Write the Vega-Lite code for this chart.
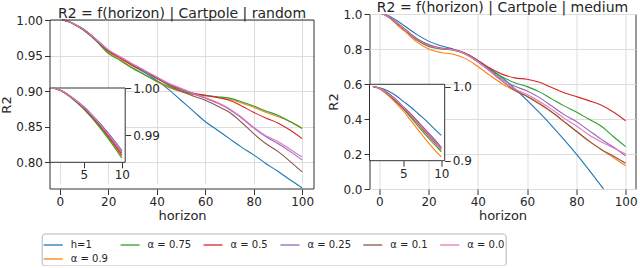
{
"$schema": "https://vega.github.io/schema/vega-lite/v6.json",
"padding": {"left": 0, "top": 0, "right": 2, "bottom": 0},
"background": "white",
"spacing": 11.5,
"datasets": {
"random": [
{"x":1,"s":"h=1","y":1},{"x":1,"s":"α = 0.9","y":1},{"x":1,"s":"α = 0.75","y":1},{"x":1,"s":"α = 0.5","y":1},{"x":1,"s":"α = 0.25","y":1},{"x":1,"s":"α = 0.1","y":1},{"x":1,"s":"α = 0.0","y":1},
{"x":2,"s":"h=1","y":0.99947},{"x":2,"s":"α = 0.9","y":0.99942},{"x":2,"s":"α = 0.75","y":0.9994},{"x":2,"s":"α = 0.5","y":0.99943},{"x":2,"s":"α = 0.25","y":0.99946},{"x":2,"s":"α = 0.1","y":0.99945},{"x":2,"s":"α = 0.0","y":0.99946},
{"x":3,"s":"h=1","y":0.99854},{"x":3,"s":"α = 0.9","y":0.9984},{"x":3,"s":"α = 0.75","y":0.99836},{"x":3,"s":"α = 0.5","y":0.99844},{"x":3,"s":"α = 0.25","y":0.99853},{"x":3,"s":"α = 0.1","y":0.99848},{"x":3,"s":"α = 0.0","y":0.9985},
{"x":4,"s":"h=1","y":0.99734},{"x":4,"s":"α = 0.9","y":0.9971},{"x":4,"s":"α = 0.75","y":0.99702},{"x":4,"s":"α = 0.5","y":0.99716},{"x":4,"s":"α = 0.25","y":0.99732},{"x":4,"s":"α = 0.1","y":0.99724},{"x":4,"s":"α = 0.0","y":0.99728},
{"x":5,"s":"h=1","y":0.99601},{"x":5,"s":"α = 0.9","y":0.99565},{"x":5,"s":"α = 0.75","y":0.99553},{"x":5,"s":"α = 0.5","y":0.99574},{"x":5,"s":"α = 0.25","y":0.99598},{"x":5,"s":"α = 0.1","y":0.99586},{"x":5,"s":"α = 0.0","y":0.99592},
{"x":6,"s":"h=1","y":0.99441},{"x":6,"s":"α = 0.9","y":0.99391},{"x":6,"s":"α = 0.75","y":0.99374},{"x":6,"s":"α = 0.5","y":0.99404},{"x":6,"s":"α = 0.25","y":0.99437},{"x":6,"s":"α = 0.1","y":0.9942},{"x":6,"s":"α = 0.0","y":0.99429},
{"x":7,"s":"h=1","y":0.99269},{"x":7,"s":"α = 0.9","y":0.99203},{"x":7,"s":"α = 0.75","y":0.9918},{"x":7,"s":"α = 0.5","y":0.99219},{"x":7,"s":"α = 0.25","y":0.99263},{"x":7,"s":"α = 0.1","y":0.99241},{"x":7,"s":"α = 0.0","y":0.99252},
{"x":8,"s":"h=1","y":0.99082},{"x":8,"s":"α = 0.9","y":0.98999},{"x":8,"s":"α = 0.75","y":0.98972},{"x":8,"s":"α = 0.5","y":0.9902},{"x":8,"s":"α = 0.25","y":0.99075},{"x":8,"s":"α = 0.1","y":0.99048},{"x":8,"s":"α = 0.0","y":0.99062},
{"x":9,"s":"h=1","y":0.98883},{"x":9,"s":"α = 0.9","y":0.98782},{"x":9,"s":"α = 0.75","y":0.98748},{"x":9,"s":"α = 0.5","y":0.98807},{"x":9,"s":"α = 0.25","y":0.98874},{"x":9,"s":"α = 0.1","y":0.98841},{"x":9,"s":"α = 0.0","y":0.98858},
{"x":10,"s":"h=1","y":0.9867},{"x":10,"s":"α = 0.9","y":0.9855},{"x":10,"s":"α = 0.75","y":0.9851},{"x":10,"s":"α = 0.5","y":0.9858},{"x":10,"s":"α = 0.25","y":0.9866},{"x":10,"s":"α = 0.1","y":0.9862},{"x":10,"s":"α = 0.0","y":0.9864},
{"x":15,"s":"h=1","y":0.9725},{"x":15,"s":"α = 0.9","y":0.9712},{"x":15,"s":"α = 0.75","y":0.9708},{"x":15,"s":"α = 0.5","y":0.9718},{"x":15,"s":"α = 0.25","y":0.9728},{"x":15,"s":"α = 0.1","y":0.9722},{"x":15,"s":"α = 0.0","y":0.9726},
{"x":20,"s":"h=1","y":0.957},{"x":20,"s":"α = 0.9","y":0.954},{"x":20,"s":"α = 0.75","y":0.953},{"x":20,"s":"α = 0.5","y":0.956},{"x":20,"s":"α = 0.25","y":0.958},{"x":20,"s":"α = 0.1","y":0.957},{"x":20,"s":"α = 0.0","y":0.958},
{"x":25,"s":"h=1","y":0.947},{"x":25,"s":"α = 0.9","y":0.944},{"x":25,"s":"α = 0.75","y":0.943},{"x":25,"s":"α = 0.5","y":0.946},{"x":25,"s":"α = 0.25","y":0.948},{"x":25,"s":"α = 0.1","y":0.947},{"x":25,"s":"α = 0.0","y":0.948},
{"x":30,"s":"h=1","y":0.936},{"x":30,"s":"α = 0.9","y":0.933},{"x":30,"s":"α = 0.75","y":0.932},{"x":30,"s":"α = 0.5","y":0.936},{"x":30,"s":"α = 0.25","y":0.938},{"x":30,"s":"α = 0.1","y":0.937},{"x":30,"s":"α = 0.0","y":0.938},
{"x":35,"s":"h=1","y":0.926},{"x":35,"s":"α = 0.9","y":0.923},{"x":35,"s":"α = 0.75","y":0.923},{"x":35,"s":"α = 0.5","y":0.928},{"x":35,"s":"α = 0.25","y":0.929},{"x":35,"s":"α = 0.1","y":0.928},{"x":35,"s":"α = 0.0","y":0.929},
{"x":40,"s":"h=1","y":0.915},{"x":40,"s":"α = 0.9","y":0.913},{"x":40,"s":"α = 0.75","y":0.914},{"x":40,"s":"α = 0.5","y":0.918},{"x":40,"s":"α = 0.25","y":0.919},{"x":40,"s":"α = 0.1","y":0.918},{"x":40,"s":"α = 0.0","y":0.92},
{"x":45,"s":"h=1","y":0.902},{"x":45,"s":"α = 0.9","y":0.905},{"x":45,"s":"α = 0.75","y":0.906},{"x":45,"s":"α = 0.5","y":0.909},{"x":45,"s":"α = 0.25","y":0.91},{"x":45,"s":"α = 0.1","y":0.908},{"x":45,"s":"α = 0.0","y":0.911},
{"x":50,"s":"h=1","y":0.887},{"x":50,"s":"α = 0.9","y":0.899},{"x":50,"s":"α = 0.75","y":0.9},{"x":50,"s":"α = 0.5","y":0.902},{"x":50,"s":"α = 0.25","y":0.903},{"x":50,"s":"α = 0.1","y":0.9},{"x":50,"s":"α = 0.0","y":0.904},
{"x":55,"s":"h=1","y":0.872},{"x":55,"s":"α = 0.9","y":0.895},{"x":55,"s":"α = 0.75","y":0.896},{"x":55,"s":"α = 0.5","y":0.897},{"x":55,"s":"α = 0.25","y":0.896},{"x":55,"s":"α = 0.1","y":0.893},{"x":55,"s":"α = 0.0","y":0.897},
{"x":60,"s":"h=1","y":0.857},{"x":60,"s":"α = 0.9","y":0.893},{"x":60,"s":"α = 0.75","y":0.894},{"x":60,"s":"α = 0.5","y":0.894},{"x":60,"s":"α = 0.25","y":0.89},{"x":60,"s":"α = 0.1","y":0.887},{"x":60,"s":"α = 0.0","y":0.891},
{"x":65,"s":"h=1","y":0.845},{"x":65,"s":"α = 0.9","y":0.891},{"x":65,"s":"α = 0.75","y":0.892},{"x":65,"s":"α = 0.5","y":0.891},{"x":65,"s":"α = 0.25","y":0.883},{"x":65,"s":"α = 0.1","y":0.879},{"x":65,"s":"α = 0.0","y":0.884},
{"x":70,"s":"h=1","y":0.833},{"x":70,"s":"α = 0.9","y":0.888},{"x":70,"s":"α = 0.75","y":0.89},{"x":70,"s":"α = 0.5","y":0.887},{"x":70,"s":"α = 0.25","y":0.874},{"x":70,"s":"α = 0.1","y":0.87},{"x":70,"s":"α = 0.0","y":0.875},
{"x":75,"s":"h=1","y":0.821},{"x":75,"s":"α = 0.9","y":0.883},{"x":75,"s":"α = 0.75","y":0.885},{"x":75,"s":"α = 0.5","y":0.879},{"x":75,"s":"α = 0.25","y":0.862},{"x":75,"s":"α = 0.1","y":0.856},{"x":75,"s":"α = 0.0","y":0.863},
{"x":80,"s":"h=1","y":0.81},{"x":80,"s":"α = 0.9","y":0.877},{"x":80,"s":"α = 0.75","y":0.879},{"x":80,"s":"α = 0.5","y":0.87},{"x":80,"s":"α = 0.25","y":0.848},{"x":80,"s":"α = 0.1","y":0.84},{"x":80,"s":"α = 0.0","y":0.849},
{"x":85,"s":"h=1","y":0.798},{"x":85,"s":"α = 0.9","y":0.87},{"x":85,"s":"α = 0.75","y":0.872},{"x":85,"s":"α = 0.5","y":0.862},{"x":85,"s":"α = 0.25","y":0.836},{"x":85,"s":"α = 0.1","y":0.826},{"x":85,"s":"α = 0.0","y":0.837},
{"x":90,"s":"h=1","y":0.787},{"x":90,"s":"α = 0.9","y":0.864},{"x":90,"s":"α = 0.75","y":0.866},{"x":90,"s":"α = 0.5","y":0.855},{"x":90,"s":"α = 0.25","y":0.826},{"x":90,"s":"α = 0.1","y":0.815},{"x":90,"s":"α = 0.0","y":0.829},
{"x":95,"s":"h=1","y":0.775},{"x":95,"s":"α = 0.9","y":0.857},{"x":95,"s":"α = 0.75","y":0.857},{"x":95,"s":"α = 0.5","y":0.845},{"x":95,"s":"α = 0.25","y":0.815},{"x":95,"s":"α = 0.1","y":0.801},{"x":95,"s":"α = 0.0","y":0.818},
{"x":100,"s":"h=1","y":0.7635},{"x":100,"s":"α = 0.9","y":0.848},{"x":100,"s":"α = 0.75","y":0.847},{"x":100,"s":"α = 0.5","y":0.833},{"x":100,"s":"α = 0.25","y":0.803},{"x":100,"s":"α = 0.1","y":0.786},{"x":100,"s":"α = 0.0","y":0.807}
],
"medium": [
{"x":1,"s":"h=1","y":1},{"x":1,"s":"α = 0.9","y":1},{"x":1,"s":"α = 0.75","y":1},{"x":1,"s":"α = 0.5","y":1},{"x":1,"s":"α = 0.25","y":1},{"x":1,"s":"α = 0.1","y":1},{"x":1,"s":"α = 0.0","y":1},
{"x":2,"s":"h=1","y":0.998},{"x":2,"s":"α = 0.9","y":0.996},{"x":2,"s":"α = 0.75","y":0.997},{"x":2,"s":"α = 0.5","y":0.997},{"x":2,"s":"α = 0.25","y":0.997},{"x":2,"s":"α = 0.1","y":0.997},{"x":2,"s":"α = 0.0","y":0.997},
{"x":3,"s":"h=1","y":0.994},{"x":3,"s":"α = 0.9","y":0.988},{"x":3,"s":"α = 0.75","y":0.989},{"x":3,"s":"α = 0.5","y":0.99},{"x":3,"s":"α = 0.25","y":0.991},{"x":3,"s":"α = 0.1","y":0.991},{"x":3,"s":"α = 0.0","y":0.99},
{"x":4,"s":"h=1","y":0.988},{"x":4,"s":"α = 0.9","y":0.978},{"x":4,"s":"α = 0.75","y":0.98},{"x":4,"s":"α = 0.5","y":0.981},{"x":4,"s":"α = 0.25","y":0.983},{"x":4,"s":"α = 0.1","y":0.982},{"x":4,"s":"α = 0.0","y":0.982},
{"x":5,"s":"h=1","y":0.98},{"x":5,"s":"α = 0.9","y":0.967},{"x":5,"s":"α = 0.75","y":0.97},{"x":5,"s":"α = 0.5","y":0.971},{"x":5,"s":"α = 0.25","y":0.973},{"x":5,"s":"α = 0.1","y":0.972},{"x":5,"s":"α = 0.0","y":0.972},
{"x":6,"s":"h=1","y":0.972},{"x":6,"s":"α = 0.9","y":0.954},{"x":6,"s":"α = 0.75","y":0.958},{"x":6,"s":"α = 0.5","y":0.96},{"x":6,"s":"α = 0.25","y":0.963},{"x":6,"s":"α = 0.1","y":0.962},{"x":6,"s":"α = 0.0","y":0.961},
{"x":7,"s":"h=1","y":0.963},{"x":7,"s":"α = 0.9","y":0.941},{"x":7,"s":"α = 0.75","y":0.946},{"x":7,"s":"α = 0.5","y":0.949},{"x":7,"s":"α = 0.25","y":0.952},{"x":7,"s":"α = 0.1","y":0.951},{"x":7,"s":"α = 0.0","y":0.95},
{"x":8,"s":"h=1","y":0.954},{"x":8,"s":"α = 0.9","y":0.928},{"x":8,"s":"α = 0.75","y":0.934},{"x":8,"s":"α = 0.5","y":0.937},{"x":8,"s":"α = 0.25","y":0.941},{"x":8,"s":"α = 0.1","y":0.94},{"x":8,"s":"α = 0.0","y":0.939},
{"x":9,"s":"h=1","y":0.944},{"x":9,"s":"α = 0.9","y":0.916},{"x":9,"s":"α = 0.75","y":0.923},{"x":9,"s":"α = 0.5","y":0.926},{"x":9,"s":"α = 0.25","y":0.93},{"x":9,"s":"α = 0.1","y":0.928},{"x":9,"s":"α = 0.0","y":0.927},
{"x":10,"s":"h=1","y":0.934},{"x":10,"s":"α = 0.9","y":0.905},{"x":10,"s":"α = 0.75","y":0.912},{"x":10,"s":"α = 0.5","y":0.915},{"x":10,"s":"α = 0.25","y":0.918},{"x":10,"s":"α = 0.1","y":0.917},{"x":10,"s":"α = 0.0","y":0.916},
{"x":15,"s":"h=1","y":0.885},{"x":15,"s":"α = 0.9","y":0.842},{"x":15,"s":"α = 0.75","y":0.853},{"x":15,"s":"α = 0.5","y":0.857},{"x":15,"s":"α = 0.25","y":0.862},{"x":15,"s":"α = 0.1","y":0.86},{"x":15,"s":"α = 0.0","y":0.858},
{"x":20,"s":"h=1","y":0.845},{"x":20,"s":"α = 0.9","y":0.8},{"x":20,"s":"α = 0.75","y":0.815},{"x":20,"s":"α = 0.5","y":0.818},{"x":20,"s":"α = 0.25","y":0.825},{"x":20,"s":"α = 0.1","y":0.822},{"x":20,"s":"α = 0.0","y":0.82},
{"x":25,"s":"h=1","y":0.818},{"x":25,"s":"α = 0.9","y":0.78},{"x":25,"s":"α = 0.75","y":0.8},{"x":25,"s":"α = 0.5","y":0.803},{"x":25,"s":"α = 0.25","y":0.806},{"x":25,"s":"α = 0.1","y":0.804},{"x":25,"s":"α = 0.0","y":0.803},
{"x":30,"s":"h=1","y":0.8},{"x":30,"s":"α = 0.9","y":0.77},{"x":30,"s":"α = 0.75","y":0.793},{"x":30,"s":"α = 0.5","y":0.797},{"x":30,"s":"α = 0.25","y":0.797},{"x":30,"s":"α = 0.1","y":0.796},{"x":30,"s":"α = 0.0","y":0.795},
{"x":35,"s":"h=1","y":0.775},{"x":35,"s":"α = 0.9","y":0.745},{"x":35,"s":"α = 0.75","y":0.77},{"x":35,"s":"α = 0.5","y":0.775},{"x":35,"s":"α = 0.25","y":0.773},{"x":35,"s":"α = 0.1","y":0.772},{"x":35,"s":"α = 0.0","y":0.771},
{"x":40,"s":"h=1","y":0.735},{"x":40,"s":"α = 0.9","y":0.7},{"x":40,"s":"α = 0.75","y":0.728},{"x":40,"s":"α = 0.5","y":0.735},{"x":40,"s":"α = 0.25","y":0.73},{"x":40,"s":"α = 0.1","y":0.727},{"x":40,"s":"α = 0.0","y":0.727},
{"x":45,"s":"h=1","y":0.686},{"x":45,"s":"α = 0.9","y":0.648},{"x":45,"s":"α = 0.75","y":0.682},{"x":45,"s":"α = 0.5","y":0.69},{"x":45,"s":"α = 0.25","y":0.678},{"x":45,"s":"α = 0.1","y":0.672},{"x":45,"s":"α = 0.0","y":0.673},
{"x":50,"s":"h=1","y":0.635},{"x":50,"s":"α = 0.9","y":0.6},{"x":50,"s":"α = 0.75","y":0.64},{"x":50,"s":"α = 0.5","y":0.655},{"x":50,"s":"α = 0.25","y":0.625},{"x":50,"s":"α = 0.1","y":0.615},{"x":50,"s":"α = 0.0","y":0.618},
{"x":55,"s":"h=1","y":0.573},{"x":55,"s":"α = 0.9","y":0.562},{"x":55,"s":"α = 0.75","y":0.607},{"x":55,"s":"α = 0.5","y":0.635},{"x":55,"s":"α = 0.25","y":0.587},{"x":55,"s":"α = 0.1","y":0.565},{"x":55,"s":"α = 0.0","y":0.572},
{"x":60,"s":"h=1","y":0.507},{"x":60,"s":"α = 0.9","y":0.53},{"x":60,"s":"α = 0.75","y":0.585},{"x":60,"s":"α = 0.5","y":0.627},{"x":60,"s":"α = 0.25","y":0.56},{"x":60,"s":"α = 0.1","y":0.528},{"x":60,"s":"α = 0.0","y":0.54},
{"x":65,"s":"h=1","y":0.436},{"x":65,"s":"α = 0.9","y":0.49},{"x":65,"s":"α = 0.75","y":0.555},{"x":65,"s":"α = 0.5","y":0.61},{"x":65,"s":"α = 0.25","y":0.522},{"x":65,"s":"α = 0.1","y":0.485},{"x":65,"s":"α = 0.0","y":0.5},
{"x":70,"s":"h=1","y":0.361},{"x":70,"s":"α = 0.9","y":0.44},{"x":70,"s":"α = 0.75","y":0.515},{"x":70,"s":"α = 0.5","y":0.58},{"x":70,"s":"α = 0.25","y":0.474},{"x":70,"s":"α = 0.1","y":0.44},{"x":70,"s":"α = 0.0","y":0.455},
{"x":75,"s":"h=1","y":0.282},{"x":75,"s":"α = 0.9","y":0.385},{"x":75,"s":"α = 0.75","y":0.475},{"x":75,"s":"α = 0.5","y":0.55},{"x":75,"s":"α = 0.25","y":0.425},{"x":75,"s":"α = 0.1","y":0.385},{"x":75,"s":"α = 0.0","y":0.405},
{"x":80,"s":"h=1","y":0.199},{"x":80,"s":"α = 0.9","y":0.33},{"x":80,"s":"α = 0.75","y":0.44},{"x":80,"s":"α = 0.5","y":0.528},{"x":80,"s":"α = 0.25","y":0.385},{"x":80,"s":"α = 0.1","y":0.33},{"x":80,"s":"α = 0.0","y":0.36},
{"x":85,"s":"h=1","y":0.111},{"x":85,"s":"α = 0.9","y":0.275},{"x":85,"s":"α = 0.75","y":0.4},{"x":85,"s":"α = 0.5","y":0.505},{"x":85,"s":"α = 0.25","y":0.335},{"x":85,"s":"α = 0.1","y":0.275},{"x":85,"s":"α = 0.0","y":0.31},
{"x":90,"s":"h=1","y":0.019},{"x":90,"s":"α = 0.9","y":0.225},{"x":90,"s":"α = 0.75","y":0.36},{"x":90,"s":"α = 0.5","y":0.48},{"x":90,"s":"α = 0.25","y":0.285},{"x":90,"s":"α = 0.1","y":0.228},{"x":90,"s":"α = 0.0","y":0.27},
{"x":95,"s":"h=1","y":-0.077},{"x":95,"s":"α = 0.9","y":0.18},{"x":95,"s":"α = 0.75","y":0.3},{"x":95,"s":"α = 0.5","y":0.44},{"x":95,"s":"α = 0.25","y":0.24},{"x":95,"s":"α = 0.1","y":0.188},{"x":95,"s":"α = 0.0","y":0.235},
{"x":100,"s":"h=1","y":-0.178},{"x":100,"s":"α = 0.9","y":0.133},{"x":100,"s":"α = 0.75","y":0.242},{"x":100,"s":"α = 0.5","y":0.39},{"x":100,"s":"α = 0.25","y":0.189},{"x":100,"s":"α = 0.1","y":0.147},{"x":100,"s":"α = 0.0","y":0.2}
]
},
"config": {
"font": "DejaVu Sans",
"view": {"stroke": "#333333", "strokeWidth": 1},
"axis": {"labelFont": "DejaVu Sans", "labelFontSize": 12, "labelColor": "#262626", "titleFont": "DejaVu Sans", "titleFontSize": 13, "titleFontWeight": "normal", "titleColor": "#262626", "tickColor": "#333333", "tickSize": 5.5, "tickWidth": 1, "labelPadding": 2, "domain": false, "grid": true, "gridColor": "#dddddd", "gridWidth": 1, "labelFlush": false, "titlePadding": 2},
"title": {"font": "DejaVu Sans", "fontSize": 14, "fontWeight": "normal", "color": "#262626", "offset": -6.5, "baseline": "alphabetic"},
"legend": {"labelFont": "DejaVu Sans", "labelFontSize": 10, "labelColor": "#262626"}
},
"resolve": {"scale": {"x": "independent", "y": "independent", "color": "shared"}},
"hconcat": [
{
"width": 264, "height": 175,
"view": {"stroke": null},
"title": {"text": "R2 = f(horizon) | Cartpole | random"},
"data": {"name": "random"},
"layer": [
{"mark": {"type": "line", "strokeWidth": 1.1, "interpolate": "monotone", "clip": true},
"encoding": {
"x": {"field": "x", "type": "quantitative", "scale": {"domain": [-4, 104.9], "nice": false, "zero": false}, "axis": {"values": [0, 20, 40, 60, 80, 100], "title": "horizon", "orient": "bottom"}},
"y": {"field": "y", "type": "quantitative", "scale": {"domain": [0.762, 1.0], "range": [175, 6], "nice": false, "zero": false}, "axis": {"values": [0.8, 0.85, 0.9, 0.95, 1.0], "format": ".2f", "title": "R2", "orient": "left"}},
"color": {"field": "s", "type": "nominal", "scale": {"domain": ["h=1", "α = 0.75", "α = 0.5", "α = 0.25", "α = 0.1", "α = 0.0", "α = 0.9"], "range": ["#1f77b4", "#2ca02c", "#d62728", "#9467bd", "#8c564b", "#e377c2", "#ff7f0e"]},
"legend": {"title": null, "orient": "none", "legendX": -8.3, "legendY": 219.5, "direction": "horizontal", "columns": 6, "symbolType": "stroke", "symbolSize": 361, "symbolStrokeWidth": 1.3, "strokeColor": "#b5b5b5", "cornerRadius": 3, "padding": 1, "gridAlign": "none", "columnPadding": 8.9, "rowPadding": -2, "labelOffset": 7}}
}},
{"data": {"values": [{}]}, "mark": {"type": "rect", "fillOpacity": 0, "stroke": "#333333", "strokeWidth": 1},
"encoding": {"x": {"datum": -4, "type": "quantitative", "scale": {"domain": [-4, 104.9], "nice": false, "zero": false}, "axis": null}, "x2": {"datum": 104.9}, "y": {"datum": 0.762, "type": "quantitative", "scale": {"domain": [0.762, 1.0], "range": [175, 6], "nice": false, "zero": false}, "axis": null}, "y2": {"datum": 1.0}}},
{"data": {"values": [{}]}, "mark": {"type": "rect", "fill": "white", "stroke": "#333333", "strokeWidth": 1},
"encoding": {"x": {"datum": 0.55, "type": "quantitative", "scale": {"domain": [0.55, 10.45], "range": [0, 75.2], "nice": false, "zero": false}, "axis": null}, "x2": {"datum": 10.45}, "y": {"datum": 0.9842, "type": "quantitative", "scale": {"domain": [0.9842, 1.0], "range": [148.3, 74], "nice": false, "zero": false}, "axis": null}, "y2": {"datum": 1.0}}},
{"transform": [{"filter": "datum.x <= 10"}], "mark": {"type": "line", "strokeWidth": 1.1, "interpolate": "monotone"},
"encoding": {
"x": {"field": "x", "type": "quantitative", "scale": {"domain": [0.55, 10.45], "range": [0, 75.2], "nice": false, "zero": false}, "axis": {"values": [5, 10], "orient": "bottom", "offset": -26.7, "grid": false, "title": null, "zindex": 1}},
"y": {"field": "y", "type": "quantitative", "scale": {"domain": [0.9842, 1.0], "range": [148.3, 74], "nice": false, "zero": false}, "axis": {"values": [0.99, 1.0], "format": ".2f", "orient": "right", "offset": -188.8, "grid": false, "title": null, "zindex": 1}},
"color": {"field": "s", "type": "nominal", "legend": null}
}}
],
"resolve": {"scale": {"x": "independent", "y": "independent"}}
},
{
"width": 266, "height": 175,
"title": {"text": "R2 = f(horizon) | Cartpole | medium"},
"data": {"name": "medium"},
"layer": [
{"mark": {"type": "line", "strokeWidth": 1.1, "interpolate": "monotone", "clip": true},
"encoding": {
"x": {"field": "x", "type": "quantitative", "scale": {"domain": [-4, 104], "nice": false, "zero": false}, "axis": {"values": [0, 20, 40, 60, 80, 100], "title": "horizon", "orient": "bottom"}},
"y": {"field": "y", "type": "quantitative", "scale": {"domain": [0, 1.0], "nice": false, "zero": false}, "axis": {"values": [0, 0.2, 0.4, 0.6, 0.8, 1.0], "format": ".1f", "title": "R2", "orient": "left"}},
"color": {"field": "s", "type": "nominal", "scale": {"domain": ["h=1", "α = 0.75", "α = 0.5", "α = 0.25", "α = 0.1", "α = 0.0", "α = 0.9"], "range": ["#1f77b4", "#2ca02c", "#d62728", "#9467bd", "#8c564b", "#e377c2", "#ff7f0e"]},
"legend": {"title": null, "orient": "none", "legendX": -8.3, "legendY": 219.5, "direction": "horizontal", "columns": 6, "symbolType": "stroke", "symbolSize": 361, "symbolStrokeWidth": 1.3, "strokeColor": "#b5b5b5", "cornerRadius": 3, "padding": 1, "gridAlign": "none", "columnPadding": 8.9, "rowPadding": -2, "labelOffset": 7}}
}},
{"data": {"values": [{}]}, "mark": {"type": "rect", "fill": "white", "stroke": "#333333", "strokeWidth": 1},
"encoding": {"x": {"datum": 0.55, "type": "quantitative", "scale": {"domain": [0.55, 10.45], "range": [0, 75.2], "nice": false, "zero": false}, "axis": null}, "x2": {"datum": 10.45}, "y": {"datum": 0.9, "type": "quantitative", "scale": {"domain": [0.9, 1.003], "range": [146.7, 70.3], "nice": false, "zero": false}, "axis": null}, "y2": {"datum": 1.003}}},
{"transform": [{"filter": "datum.x <= 10"}], "mark": {"type": "line", "strokeWidth": 1.1, "interpolate": "monotone"},
"encoding": {
"x": {"field": "x", "type": "quantitative", "scale": {"domain": [0.55, 10.45], "range": [0, 75.2], "nice": false, "zero": false}, "axis": {"values": [5, 10], "orient": "bottom", "offset": -28.3, "grid": false, "title": null, "zindex": 1}},
"y": {"field": "y", "type": "quantitative", "scale": {"domain": [0.9, 1.003], "range": [146.7, 70.3], "nice": false, "zero": false}, "axis": {"values": [0.9, 1.0], "format": ".1f", "orient": "right", "offset": -190.8, "grid": false, "title": null, "zindex": 1}},
"color": {"field": "s", "type": "nominal", "legend": null}
}}
],
"resolve": {"scale": {"x": "independent", "y": "independent"}}
}
]
}
